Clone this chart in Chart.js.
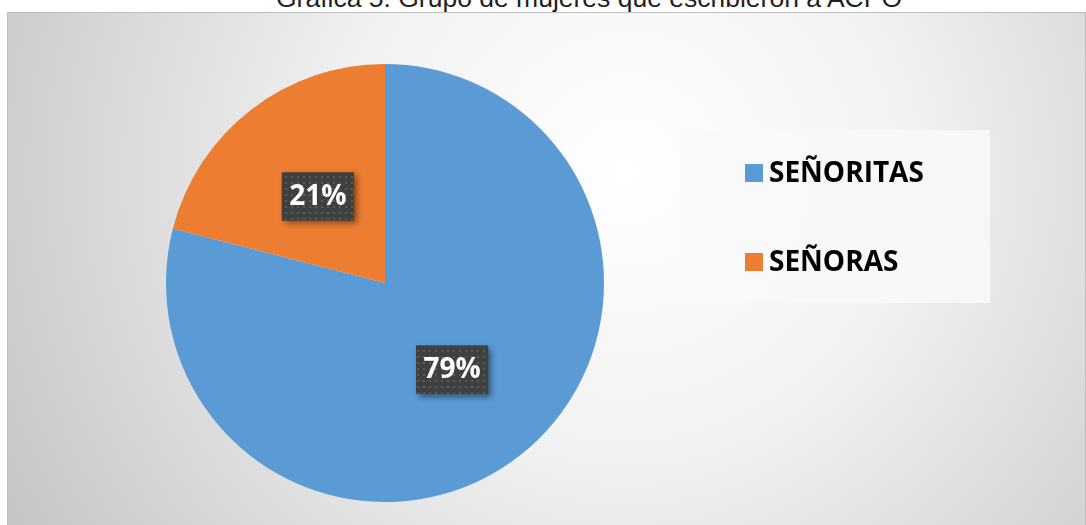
<!DOCTYPE html>
<html>
<head>
<meta charset="utf-8">
<script src="https://cdn.jsdelivr.net/npm/chart.js@4"></script>
<style>
  html, body { margin: 0; padding: 0; background: #ffffff; overflow: hidden; }
  #titulo {
    position: absolute; left: 0; width: 1178px; top: -15px;
    text-align: center; font-family: "Liberation Sans", Arial, sans-serif;
    font-size: 26.5px; line-height: 26.5px; color: #1f1f1f;
  }
  #caja {
    position: absolute; left: 7px; top: 12px; width: 1079px; height: 513px;
  }
</style>
</head>
<body>
<div id="titulo">Gráfica 5. Grupo de mujeres que escribieron a ACPO</div>
<div id="caja"><canvas id="chart"></canvas></div>
<script>
// datos de la grafica
var categorias = ['SEÑORITAS', 'SEÑORAS'];
var porcentajes = [79, 21];
var colores = ['#5B9BD5', '#ED7D31'];

// patron punteado para las etiquetas
function crearPatron(ctx) {
    var p = document.createElement('canvas');
    p.width = 6;
    p.height = 6;
    var pc = p.getContext('2d');
    pc.fillStyle = '#3f3f3f';
    pc.fillRect(0, 0, 6, 6);
    pc.fillStyle = '#5a5a5a';
    pc.fillRect(2, 2, 2, 2);
    return ctx.createPattern(p, 'repeat');
}

var fondoPlugin = {
    id: 'fondo',
    beforeDraw: function(chart) {
        var ctx = chart.ctx;
        var w = chart.width, h = chart.height;
        ctx.save();
        var g = ctx.createRadialGradient(620, 160, 0, 620, 160, 700);
        g.addColorStop(0, '#ffffff');
        g.addColorStop(0.4, '#f2f2f2');
        g.addColorStop(1, '#c6c6c6');
        ctx.fillStyle = g;
        ctx.fillRect(0, 0, w, h);
        ctx.strokeStyle = '#bdbdbd';
        ctx.lineWidth = 1;
        ctx.strokeRect(0.5, 0.5, w - 1, h + 5);
        ctx.restore();
    }
};

var etiquetasPlugin = {
    id: 'etiquetas',
    afterDatasetsDraw: function(chart) {
        var ctx = chart.ctx;
        var meta = chart.getDatasetMeta(0);
        var patron = crearPatron(ctx);
        ctx.save();
        meta.data.forEach(function(arc, i) {
            var pos = arc.tooltipPosition();
            var bw = 72, bh = 48;
            var x = pos.x - bw / 2, y = pos.y - bh / 2;
            ctx.save();
            ctx.shadowColor = 'rgba(0,0,0,0.45)';
            ctx.shadowBlur = 6;
            ctx.shadowOffsetX = 3;
            ctx.shadowOffsetY = 3;
            ctx.fillStyle = '#3f3f3f';
            ctx.fillRect(x, y, bw, bh);
            ctx.restore();
            ctx.fillStyle = patron;
            ctx.fillRect(x, y, bw, bh);
            ctx.fillStyle = '#ffffff';
            ctx.font = 'bold 28px "Open Sans"';
            ctx.textAlign = 'center';
            ctx.textBaseline = 'middle';
            ctx.fillText(porcentajes[i] + '%', pos.x, pos.y + 1);
        });
        ctx.restore();
    }
};

var leyendaPlugin = {
    id: 'leyenda',
    afterDraw: function(chart) {
        var ctx = chart.ctx;
        ctx.save();
        ctx.fillStyle = 'rgba(248,248,248,0.9)';
        ctx.fillRect(673, 118, 310, 173);
        ctx.font = 'bold 28px "Open Sans"';
        ctx.textAlign = 'left';
        ctx.textBaseline = 'middle';
        categorias.forEach(function(c, i) {
            var y = 161 + i * 89;
            ctx.fillStyle = colores[i];
            ctx.fillRect(738, y - 9, 18, 18);
            ctx.fillStyle = '#000000';
            ctx.fillText(c, 762, y + 1);
        });
        ctx.restore();
    }
};

function crearGrafica() {
    var ctx = document.getElementById('chart').getContext('2d');
    new Chart(ctx, {
        type: 'pie',
        data: {
            labels: categorias,
            datasets: [{
                data: porcentajes,
                backgroundColor: colores,
                borderWidth: 0
            }]
        },
        options: {
            responsive: true,
            maintainAspectRatio: false,
            animation: false,
            layout: {
                padding: { top: 52, bottom: 23, left: 159, right: 482 }
            },
            plugins: {
                legend: { display: false },
                tooltip: { enabled: false }
            }
        },
        plugins: [fondoPlugin, etiquetasPlugin, leyendaPlugin]
    });
}

crearGrafica();
</script>
</body>
</html>
